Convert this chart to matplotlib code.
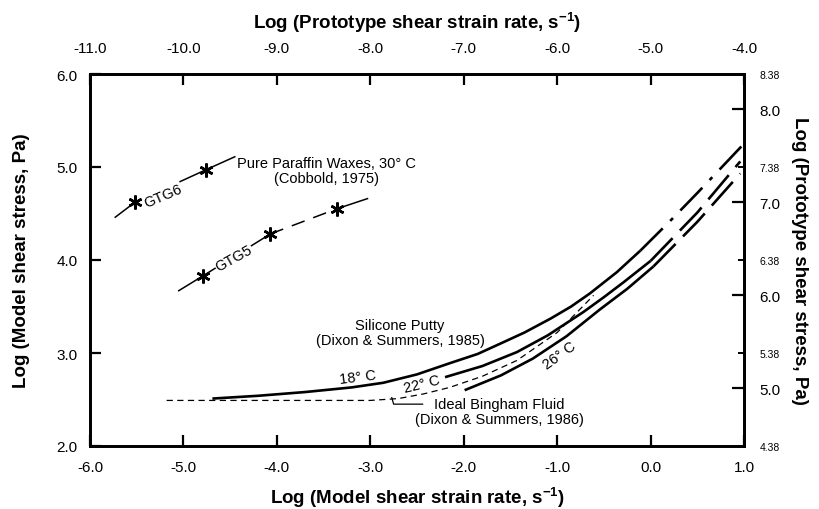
import matplotlib
matplotlib.use('Agg')
import matplotlib.pyplot as plt
from matplotlib.ticker import FixedLocator, FixedFormatter

plt.rcParams['font.family'] = ['Liberation Sans', 'DejaVu Sans']
plt.rcParams['mathtext.fontset'] = 'custom'
plt.rcParams['mathtext.rm'] = 'Liberation Sans'
plt.rcParams['mathtext.bf'] = 'Liberation Sans:bold'
plt.rcParams['mathtext.default'] = 'regular'

# paraffin wax data (Cobbold, 1975)
gtg6_x = [-5.52, -4.76]
gtg6_y = [4.62, 4.97]
gtg6_line_x = [-5.73, -5.52, -4.76, -4.45]
gtg6_line_y = [4.46, 4.62, 4.97, 5.11]

gtg5_x = [-4.79, -4.07, -3.36]
gtg5_y = [3.83, 4.28, 4.55]
gtg5_solid_x = [-5.05, -4.79, -4.07]
gtg5_solid_y = [3.67, 3.83, 4.28]
gtg5_dash_x = [-4.07, -3.36]
gtg5_dash_y = [4.28, 4.55]
gtg5_end_x = [-3.36, -3.03]
gtg5_end_y = [4.55, 4.66]

# silicone putty curves (Dixon & Summers, 1985)
t18_x = [-4.69, -4.2, -3.7, -3.2, -2.86, -2.5, -2.15, -1.85, -1.61, -1.35,
         -1.07, -0.85, -0.65, -0.36, -0.11]
t18_y = [2.51, 2.54, 2.58, 2.63, 2.68, 2.77, 2.89, 2.99, 3.10, 3.22,
         3.37, 3.50, 3.64, 3.87, 4.10]
t18_ext_x = [-0.11, 0.2, 0.5, 0.99]
t18_ext_y = [4.10, 4.41, 4.72, 5.24]

t22_x = [-2.2, -1.8, -1.43, -1.1, -0.72, -0.5, -0.29, 0.0]
t22_y = [2.74, 2.86, 3.01, 3.19, 3.44, 3.60, 3.76, 3.99]
t22_ext_x = [0.0, 0.5, 0.96]
t22_ext_y = [3.99, 4.51, 5.06]

t26_x = [-1.99, -1.6, -1.26, -0.9, -0.54, -0.25, 0.03]
t26_y = [2.60, 2.76, 2.94, 3.18, 3.47, 3.69, 3.93]
t26_ext_x = [0.03, 0.5, 0.96]
t26_ext_y = [3.93, 4.41, 4.93]

# ideal bingham fluid (Dixon & Summers, 1986)
bing_x = [-5.18, -3.0, -2.7, -2.43, -2.15, -1.8, -1.43, -1.0, -0.61]
bing_y = [2.49, 2.49, 2.51, 2.56, 2.63, 2.75, 2.92, 3.22, 3.62]

bottom_ticks = [-6, -5, -4, -3, -2, -1, 0, 1]
top_ticks = [-11, -10, -9, -8, -7, -6, -5, -4]
left_ticks = [2, 3, 4, 5, 6]
right_major = [5, 6, 7, 8]
right_minor = [4.38, 5.38, 6.38, 7.38, 8.38]

fig = plt.figure(figsize=(8.2, 5.1), dpi=100)
ax = fig.add_axes([90 / 820, 1 - 447 / 510, 654 / 820, 372 / 510])
ax.set_xlim(-6, 1)
ax.set_ylim(2, 6)

star = dict(marker=(6, 2, 0), color='black', markersize=10, mew=1.8, ls='none')
box = dict(facecolor='white', edgecolor='none', pad=0.5)
fs = 10.5

# GTG6
ax.plot(gtg6_line_x, gtg6_line_y, color='black', lw=1.1)
ax.plot(gtg6_x, gtg6_y, **star)
ax.text(-5.22, 4.69, 'GTG6', rotation=23, ha='center', va='center',
        fontsize=fs, bbox=box)
# GTG5
ax.plot(gtg5_solid_x, gtg5_solid_y, color='black', lw=1.1)
ax.plot(gtg5_dash_x, gtg5_dash_y, color='black', lw=1.1, dashes=(9, 6))
ax.plot(gtg5_end_x, gtg5_end_y, color='black', lw=1.1)
ax.plot(gtg5_x, gtg5_y, **star)
ax.text(-4.46, 4.02, 'GTG5', rotation=29, ha='center', va='center',
        fontsize=fs, bbox=box)
ax.text(-3.47, 4.96, 'Pure Paraffin Waxes, 30° C\n(Cobbold, 1975)',
        ha='center', va='center', fontsize=fs, linespacing=1.05)

# silicone putty
ax.plot(t18_x, t18_y, color='black', lw=1.9, solid_capstyle='butt')
ax.plot(t18_ext_x, t18_ext_y, color='black', lw=1.9, dashes=(12, 4, 1.5, 4))
ax.plot(t22_x, t22_y, color='black', lw=1.9, solid_capstyle='butt')
ax.plot(t22_ext_x, t22_ext_y, color='black', lw=1.9, dashes=(12, 4))
ax.plot(t26_x, t26_y, color='black', lw=1.9, solid_capstyle='butt')
ax.plot(t26_ext_x, t26_ext_y, color='black', lw=1.9, dashes=(12, 4))
ax.plot(bing_x, bing_y, color='black', lw=0.9, dashes=(5, 3.5))

ax.text(-3.13, 2.74, '18° C', rotation=7, ha='center', va='center', fontsize=fs)
ax.text(-2.45, 2.67, '22° C', rotation=14, ha='center', va='center', fontsize=fs)
ax.text(-0.97, 2.98, '26° C', rotation=36, ha='center', va='center', fontsize=fs)
ax.text(-2.68, 3.22, 'Silicone Putty\n(Dixon & Summers, 1985)',
        ha='center', va='center', fontsize=fs, linespacing=1.05)
ax.text(-1.62, 2.37, 'Ideal Bingham Fluid\n(Dixon & Summers, 1986)',
        ha='center', va='center', fontsize=fs, linespacing=1.05)
ax.plot([-2.77, -2.75, -2.44], [2.52, 2.45, 2.45], color='black', lw=0.9)

# axes styling
for s in ax.spines.values():
    s.set_linewidth(1.8)
ax.set_xticks(bottom_ticks)
ax.set_xticklabels(['%.1f' % v for v in bottom_ticks])
ax.set_yticks(left_ticks)
ax.set_yticklabels(['%.1f' % v for v in left_ticks])
ax.tick_params(direction='in', length=8, width=1.6, labelsize=11, pad=9)
ax.tick_params(axis='x', pad=10)
ax.set_xlabel('Log (Model shear strain rate, s$^{-1}$)', fontsize=13.5,
              fontweight='bold', labelpad=8)
ax.set_ylabel('Log (Model shear stress, Pa)', fontsize=13.5,
              fontweight='bold', labelpad=19)

axt = ax.twiny()
axt.set_xlim(-11, -4)
axt.set_xticks(top_ticks)
axt.set_xticklabels(['%.1f' % v for v in top_ticks])
axt.tick_params(direction='in', length=8, width=1.6, labelsize=11, pad=14)
axt.set_xlabel('Log (Prototype shear strain rate, s$^{-1}$)', fontsize=13.5,
               fontweight='bold', labelpad=9)

axr = ax.twinx()
axr.set_ylim(4.38, 8.38)
axr.yaxis.set_major_locator(FixedLocator(right_major))
axr.yaxis.set_major_formatter(FixedFormatter(['%.1f' % v for v in right_major]))
axr.yaxis.set_minor_locator(FixedLocator(right_minor))
axr.yaxis.set_minor_formatter(FixedFormatter(['%.2f' % v for v in right_minor]))
axr.tick_params(which='major', direction='in', length=9, width=1.6,
                labelsize=11, pad=11)
axr.tick_params(which='minor', direction='in', length=4, width=1.4,
                labelsize=7.5, pad=11)
axr.set_ylabel('Log (Prototype shear stress, Pa)', fontsize=13.5,
               fontweight='bold', rotation=270, labelpad=20)
for a in (axt, axr):
    for s in a.spines.values():
        s.set_linewidth(1.8)

fig.savefig('out.png', dpi=100)
